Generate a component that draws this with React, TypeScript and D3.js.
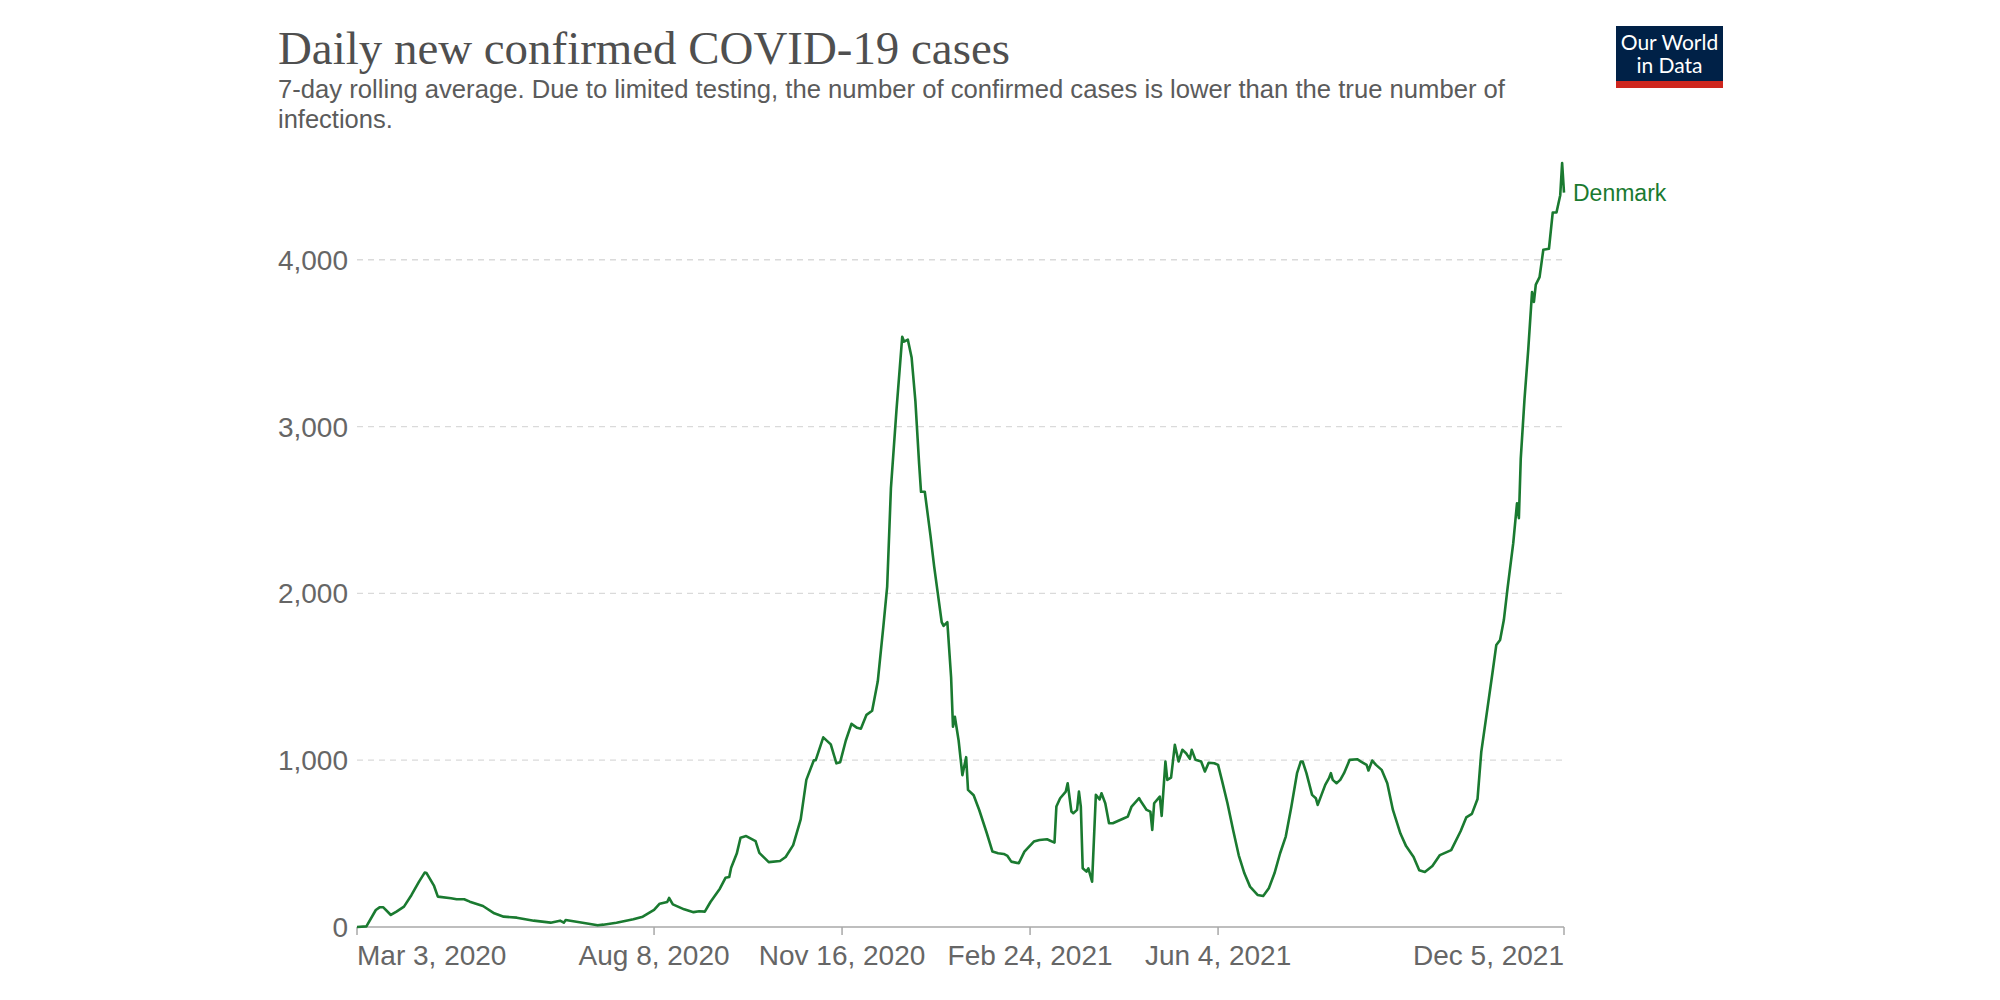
import React from "react";
import * as d3 from "d3";

const titleText = "Daily new confirmed COVID-19 cases";
const subtitleLines = [
  "7-day rolling average. Due to limited testing, the number of confirmed cases is lower than the true number of",
  "infections.",
];
const seriesName = "Denmark";
const startDateStr = "2020-03-03";
const endDateStr = "2021-12-05";
const xTickDates = ["2020-03-03", "2020-08-08", "2020-11-16", "2021-02-24", "2021-06-04", "2021-12-05"];
const yTicks = [0, 1000, 2000, 3000, 4000];

// days since 2020-03-03
const days = [
  0, 5, 10, 12, 14, 18, 21, 25, 29, 33, 36, 37, 41, 43, 50, 53, 57, 60, 67, 73,
  78, 85, 94, 103, 108, 110, 111, 120, 128, 131, 138, 147, 152, 158, 161, 165, 166, 168, 174, 179,
  182, 185, 188, 193, 196, 198, 199, 202, 204, 207, 212, 214, 219, 225, 228, 232, 236, 239, 243, 244,
  248, 252, 255, 257, 260, 263, 266, 268, 271, 274, 277, 280, 282, 284, 287, 290, 291, 293, 295, 297,
  299, 300, 302, 305, 307, 311, 312, 314, 316, 317, 318, 320, 322, 324, 325, 328, 331, 335, 338, 341,
  344, 346, 348, 352, 355, 360, 363, 367, 371, 372, 374, 377, 378, 380, 381, 383, 384, 385, 386, 388,
  389, 391, 393, 395, 396, 398, 400, 402, 408, 410, 412, 416, 417, 420, 422, 423, 424, 427, 428, 430,
  431, 433, 435, 437, 439, 441, 443, 444, 446, 449, 451, 453, 456, 458, 460, 463, 466, 469, 472, 475,
  479, 482, 485, 488, 491, 494, 497, 500, 502, 503, 505, 508, 510, 511, 513, 515, 517, 518, 519, 521,
  523, 525, 528, 532, 534, 537, 538, 540, 542, 545, 548, 551, 555, 558, 562, 565, 568, 572, 576, 582,
  587, 590, 593, 596, 598, 601, 604, 606, 608, 610, 612, 615, 617, 618, 619, 621, 623, 625, 626, 627,
  629, 631, 634, 636, 638, 640, 641, 642,
];
const cases = [
  0, 4, 102, 118, 118, 72, 92, 122, 192, 272, 326, 323, 246, 182, 172, 166, 166, 152, 126, 82,
  62, 56, 38, 26, 38, 26, 42, 26, 10, 14, 26, 46, 62, 102, 140, 150, 174, 136, 106, 89,
  94, 92, 150, 230, 295, 300, 355, 440, 535, 545, 515, 444, 389, 396, 420, 491, 645, 882, 1000, 1000,
  1137, 1095, 981, 988, 1118, 1218, 1194, 1189, 1272, 1296, 1473, 1805, 2041, 2633, 3107, 3538, 3509, 3521, 3414, 3154,
  2775, 2609, 2609, 2349, 2160, 1828, 1805, 1828, 1497, 1201, 1260, 1118, 910, 1018, 822, 790, 700, 562, 452, 442,
  438, 426, 392, 382, 452, 512, 522, 526, 506, 722, 772, 812, 862, 692, 682, 702, 812, 722, 352, 332,
  352, 272, 792, 765, 802, 742, 622, 622, 652, 662, 722, 772, 752, 702, 692, 582, 742, 782, 666, 992,
  882, 895, 1092, 992, 1062, 1042, 1008, 1062, 1002, 992, 932, 985, 982, 972, 882, 742, 582, 430, 322, 242,
  192, 186, 232, 322, 442, 542, 722, 922, 992, 992, 922, 792, 772, 732, 792, 852, 892, 922, 882, 862,
  882, 922, 1002, 1006, 992, 972, 938, 998, 972, 942, 862, 702, 560, 485, 420, 340, 330, 366, 431, 461,
  574, 657, 678, 767, 1050, 1288, 1527, 1691, 1721, 1840, 2033, 2301, 2540, 2451, 2808, 3166, 3464, 3806, 3747, 3851,
  3896, 4060, 4066, 4283, 4283, 4387, 4580, 4402,
];

const parse = d3.timeParse("%Y-%m-%d");
const fmt = d3.timeFormat("%b %-d, %Y");

const LINE_COLOR = "#1a7a30";
const SANS = "'Liberation Sans', Arial, Helvetica, sans-serif";

export default function App() {
  const start = parse(startDateStr)!;
  const end = parse(endDateStr)!;
  const data = days.map((d, i) => ({ date: d3.timeDay.offset(start, d), value: cases[i] }));
  const maxVal = d3.max(cases)!;

  const x = d3.scaleTime().domain([start, end]).range([357, 1564]);
  const y = d3.scaleLinear().domain([0, maxVal]).range([927, 163]);

  const line = d3
    .line<{ date: Date; value: number }>()
    .x((d) => x(d.date))
    .y((d) => y(d.value));

  const last = data[data.length - 1];
  const ticks = xTickDates.map((s) => parse(s)!);

  return (
    <svg
      width={2000}
      height={1000}
      style={{ position: "absolute", left: 0, top: 0, background: "#fff" }}
    >
      <rect x={0} y={0} width={2000} height={1000} fill="#fff" />
      <text
        x={278}
        y={64}
        fontFamily="'Liberation Serif', 'DejaVu Serif', serif"
        fontSize={47}
        textLength={732}
        lengthAdjust="spacingAndGlyphs"
        fill="#4f4f4f"
      >
        {titleText}
      </text>
      {subtitleLines.map((s, i) => (
        <text
          key={i}
          x={278}
          y={98 + i * 29.5}
          fontFamily={SANS}
          fontSize={25.5}
          fill="#5b5b5b"
          {...(i === 0 ? { textLength: 1227, lengthAdjust: "spacingAndGlyphs" } : {})}
        >
          {s}
        </text>
      ))}

      {/* logo */}
      <g>
        <rect x={1616} y={26} width={107} height={62} fill="#002147" />
        <rect x={1616} y={81} width={107} height={7} fill="#ce261e" />
        <text x={1669.5} y={50} textAnchor="middle" fontFamily="Lato, sans-serif" fontSize={21} fill="#fff">
          Our World
        </text>
        <text x={1669.5} y={73} textAnchor="middle" fontFamily="Lato, sans-serif" fontSize={21} fill="#fff">
          in Data
        </text>
      </g>

      {/* gridlines + y labels */}
      {yTicks.map((t) => (
        <g key={t}>
          {t > 0 && (
            <line
              x1={x(start)}
              x2={x(end)}
              y1={y(t)}
              y2={y(t)}
              stroke="#dadada"
              strokeWidth={1.3}
              strokeDasharray="6,5"
            />
          )}
          <text
            x={348}
            y={y(t)}
            dy="0.36em"
            textAnchor="end"
            fontFamily={SANS}
            fontSize={28}
            fill="#666"
          >
            {d3.format(",")(t)}
          </text>
        </g>
      ))}

      {/* x axis */}
      <line x1={x(start)} x2={x(end)} y1={y(0)} y2={y(0)} stroke="#a8a8a8" strokeWidth={1.5} />
      {ticks.map((t, i) => (
        <g key={i}>
          <line x1={x(t)} x2={x(t)} y1={y(0)} y2={y(0) + 8} stroke="#a8a8a8" strokeWidth={1.5} />
          <text
            x={x(t)}
            y={965}
            textAnchor={i === 0 ? "start" : i === ticks.length - 1 ? "end" : "middle"}
            fontFamily={SANS}
            fontSize={28}
            fill="#666"
          >
            {fmt(t)}
          </text>
        </g>
      ))}

      {/* series */}
      <path d={line(data)!} fill="none" stroke={LINE_COLOR} strokeWidth={2.6} strokeLinejoin="round" />
      <text x={x(last.date) + 9} y={y(last.value) - 0} dy="0.36em" fontFamily={SANS} fontSize={23} fill={LINE_COLOR}>
        {seriesName}
      </text>
    </svg>
  );
}
